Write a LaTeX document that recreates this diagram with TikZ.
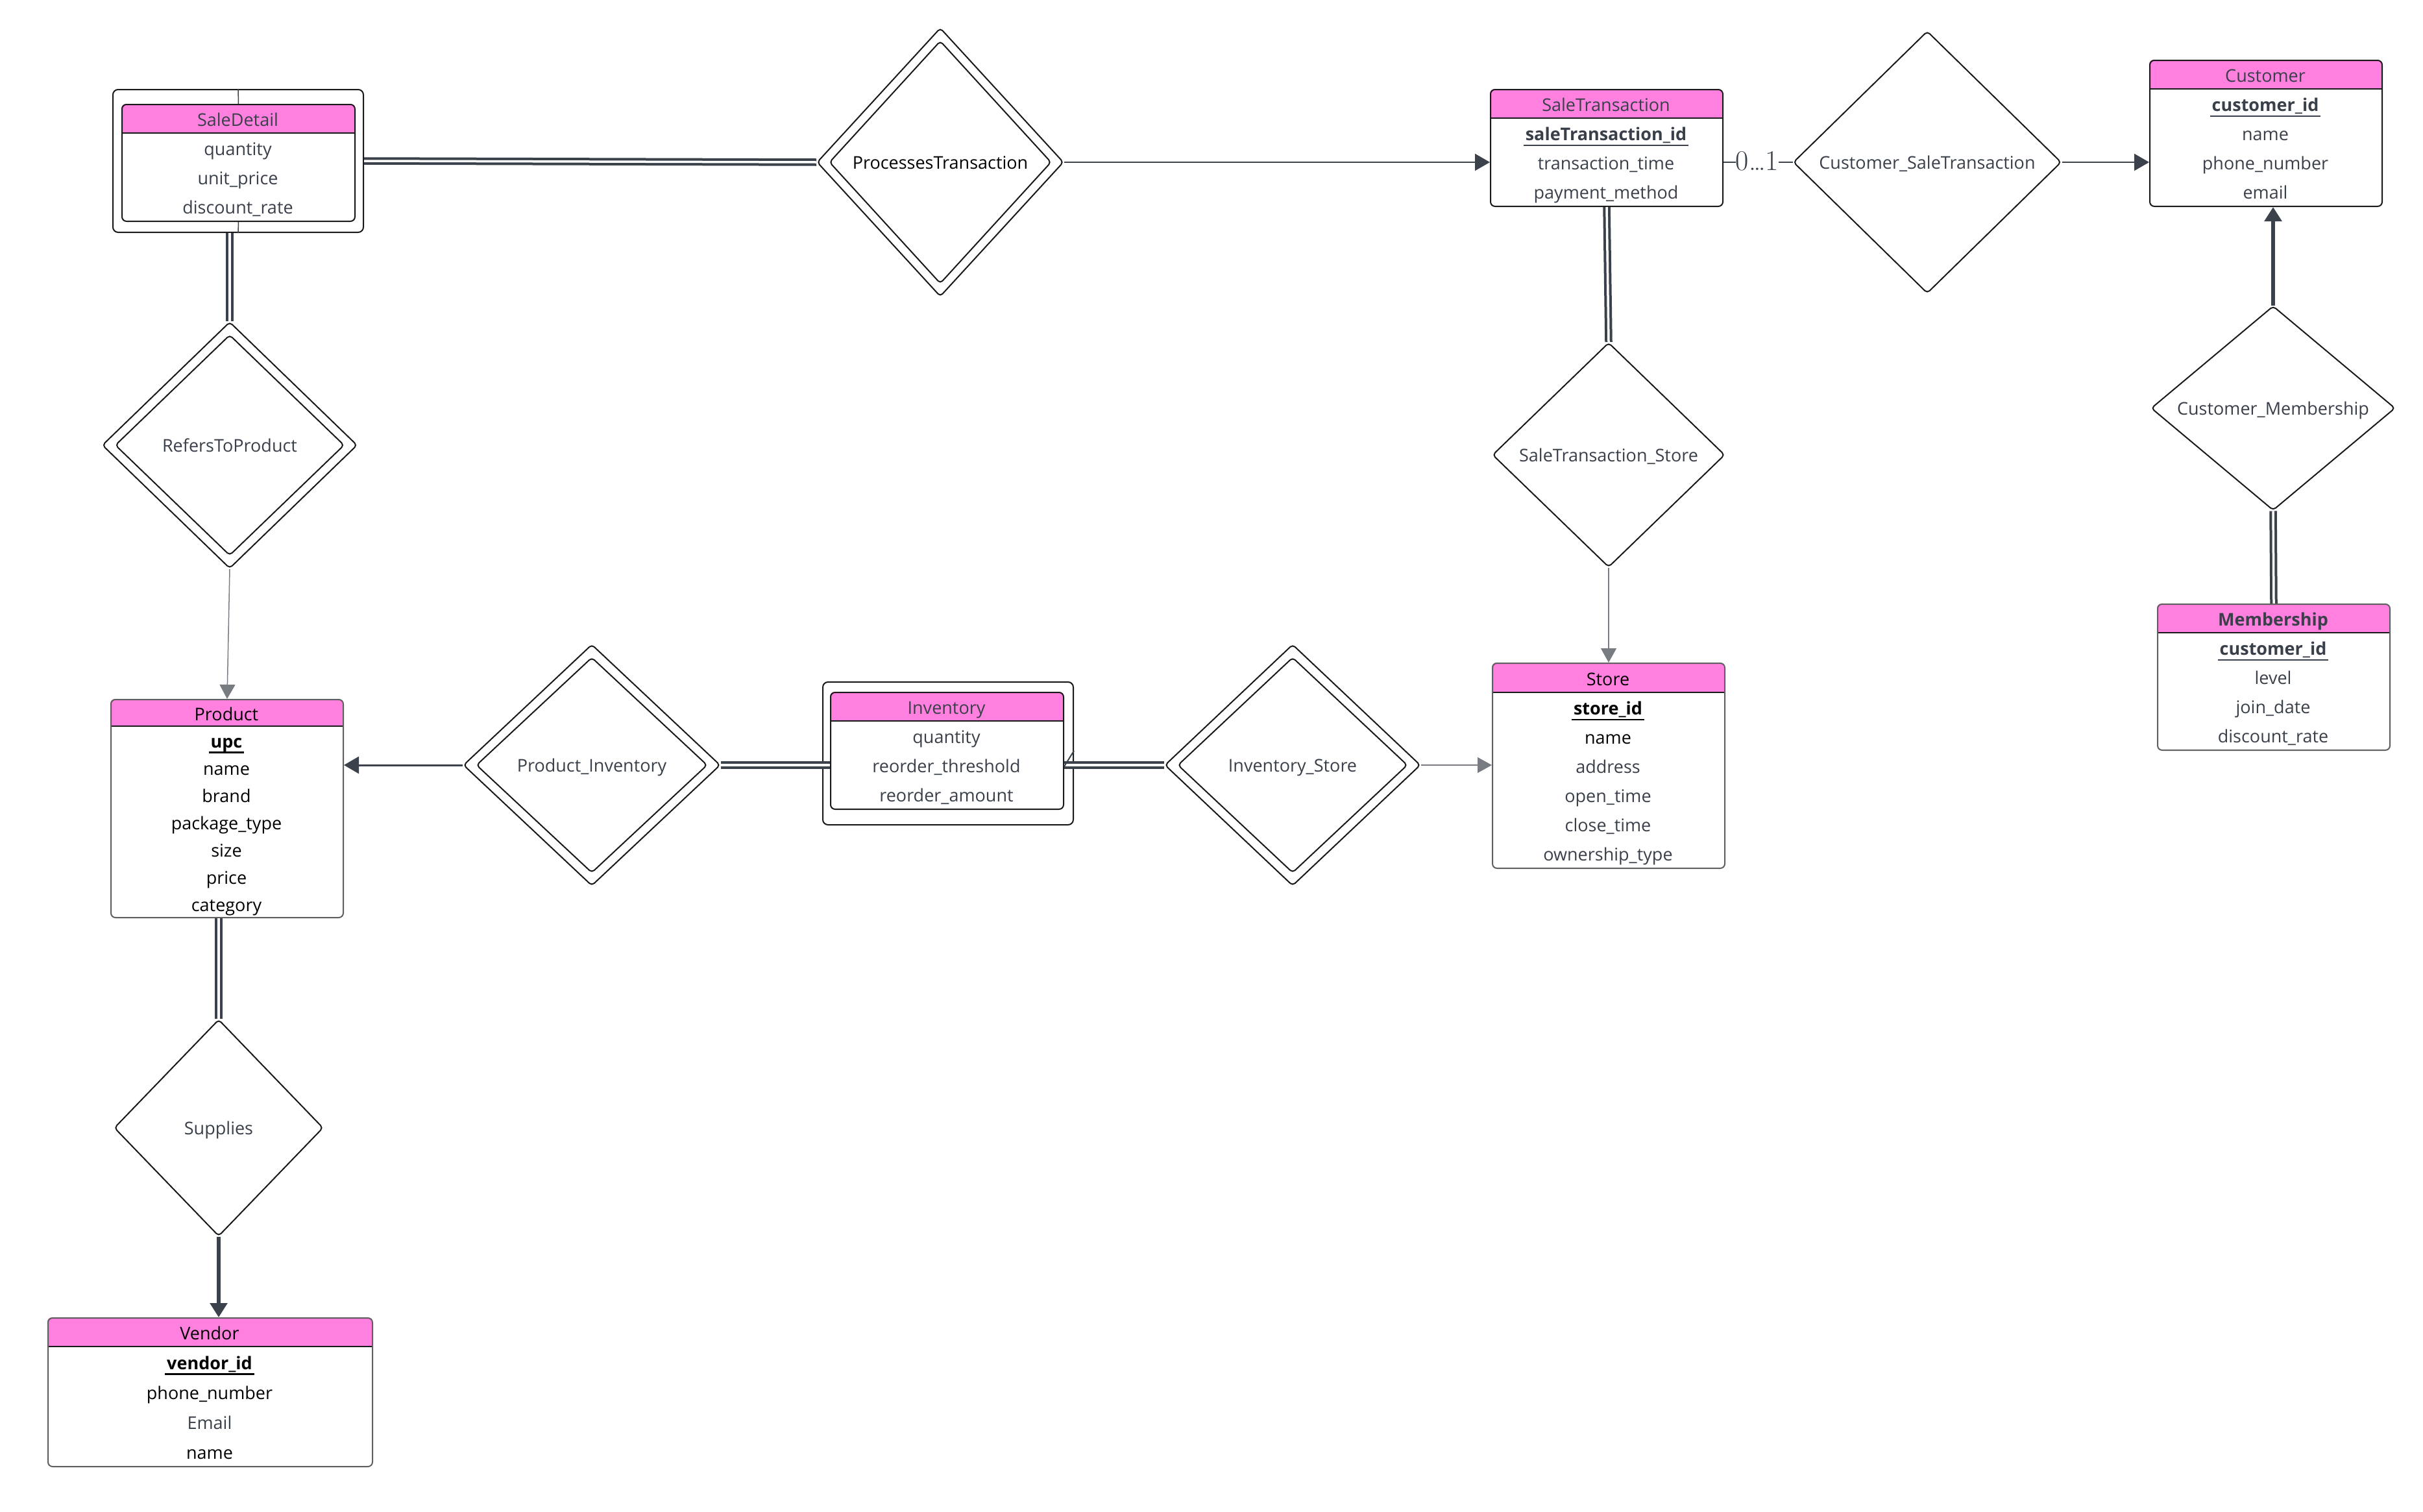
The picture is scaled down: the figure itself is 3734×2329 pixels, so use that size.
\documentclass[tikz,border=0pt]{standalone}
\usepackage{fontspec}
\setsansfont{Open Sans}
\usetikzlibrary{shapes.geometric,arrows.meta}

\definecolor{hdrpink}{RGB}{255,128,223}
\definecolor{ink}{RGB}{58,64,74}
\definecolor{wire}{RGB}{59,66,76}
\definecolor{edge}{RGB}{25,25,25}
\definecolor{soft}{RGB}{95,95,95}
\definecolor{faint}{RGB}{120,124,130}

% primary key: bold text with a rule under it
\newcommand{\pk}[1]{\setbox0=\hbox{\textbf{#1}}\rlap{\hspace{-3pt}\rule[-8.5pt]{\dimexpr\wd0+6pt\relax}{2.4pt}}\box0}

% entity table: #1 name, #2 left, #3 top, #4 width, #5 header height, #6 body height, #7 border colour
\newcommand{\entbox}[7]{%
  \begin{scope}
    \clip[rounded corners=7] (#2,#3) rectangle ({#2+#4},{#3+#5+#6});
    \fill[hdrpink] (#2,#3) rectangle ({#2+#4},{#3+#5});
  \end{scope}
  \draw[edge, line width=1.8] (#2,{#3+#5}) -- ({#2+#4},{#3+#5});
  \node[draw=#7, line width=2, rounded corners=7, anchor=north west, inner sep=0,
        minimum width=#4, minimum height={#5+#6}] (#1) at (#2,#3) {};
}

\tikzset{
  x=1pt, y=-1pt,
  lbl/.style={font=\sffamily\fontsize{27}{32}\selectfont, inner sep=0,
              text height=24pt, text depth=0pt, text=ink},
  lblk/.style={lbl, text=black},
  rel/.style={diamond, draw=edge, line width=2, rounded corners=5, inner sep=0},
  outerbox/.style={draw=edge, line width=2, rounded corners=8, anchor=north west, inner sep=0},
  weak/.style={draw=wire, line width=4, double=white, double distance=3.5},
  plain/.style={draw=wire, line width=2.5},
  arrowthin/.style={draw=wire, line width=2, -{Triangle[length=23,width=26]}},
  arrowlight/.style={draw=faint, line width=1.5, -{Triangle[length=22,width=24]}},
  arrowmid/.style={draw=wire, line width=3, -{Triangle[length=23,width=26]}},
  arrowbold/.style={draw=wire, line width=6, -{Triangle[length=22,width=26]}},
}

\begin{document}
\begin{tikzpicture}
\useasboundingbox[fill=white] (0,0) rectangle (3734,2329);

% ---------- SaleDetail (weak entity) ----------
\node[outerbox, minimum width=386, minimum height=220] (sdo) at (173,137) {};
\entbox{sdi}{187}{160}{359}{45}{135}{edge}
\node[lbl] (sd-h) at (366.5,182.5) {SaleDetail};
\node[lbl] (sd-1) at (366.5,227.5) {quantity};
\node[lbl] (sd-2) at (366.5,272.5) {unit\_price};
\node[lbl] (sd-3) at (366.5,317.5) {discount\_rate};
\draw[wire, line width=1.5] (sdo.north) -- (sdi.north);
\draw[wire, line width=1.5] (sdi.south) -- (sdo.south);

% ---------- SaleTransaction ----------
\entbox{st}{2296}{137}{358}{45}{135}{edge}
\node[lbl] (st-h) at (2475,159.5) {SaleTransaction};
\node[lbl] (st-1) at (2475,204.5) {\pk{saleTransaction\_id}};
\node[lbl] (st-2) at (2475,249.5) {transaction\_time};
\node[lbl] (st-3) at (2475,294.5) {payment\_method};

% ---------- Customer ----------
\entbox{cust}{3312}{92}{358}{45}{180}{edge}
\node[lbl] (cu-h) at (3491,114.5) {Customer};
\node[lbl] (cu-1) at (3491,159.5) {\pk{customer\_id}};
\node[lbl] (cu-2) at (3491,204.5) {name};
\node[lbl] (cu-3) at (3491,249.5) {phone\_number};
\node[lbl] (cu-4) at (3491,294.5) {email};

% ---------- Membership ----------
\entbox{mem}{3324}{930}{358}{45}{180}{soft}
\node[lbl] (me-h) at (3503,952.5) {\textbf{Membership}};
\node[lbl] (me-1) at (3503,997.5) {\pk{customer\_id}};
\node[lbl] (me-2) at (3503,1042.5) {level};
\node[lbl] (me-3) at (3503,1087.5) {join\_date};
\node[lbl] (me-4) at (3503,1132.5) {discount\_rate};

% ---------- Product ----------
\entbox{prod}{170}{1077}{358}{42}{294}{soft}
\node[lblk] (pr-h) at (349,1098) {Product};
\node[lblk] (pr-1) at (349,1140) {\pk{upc}};
\node[lblk] (pr-2) at (349,1182) {name};
\node[lblk] (pr-3) at (349,1224) {brand};
\node[lblk] (pr-4) at (349,1266) {package\_type};
\node[lblk] (pr-5) at (349,1308) {size};
\node[lblk] (pr-6) at (349,1350) {price};
\node[lblk] (pr-7) at (349,1392) {category};

% ---------- Inventory (weak entity) ----------
\node[outerbox, minimum width=386, minimum height=220] (invo) at (1267,1050) {};
\entbox{invi}{1279}{1066}{359}{45}{135}{edge}
\node[lbl] (in-h) at (1458.5,1088.5) {Inventory};
\node[lbl] (in-1) at (1458.5,1133.5) {quantity};
\node[lbl] (in-2) at (1458.5,1178.5) {reorder\_threshold};
\node[lbl] (in-3) at (1458.5,1223.5) {reorder\_amount};

% ---------- Store ----------
\entbox{store}{2299}{1021}{358}{46}{270}{soft}
\node[lblk] (so-h) at (2478,1044) {Store};
\node[lblk] (so-1) at (2478,1089.5) {\pk{store\_id}};
\node[lblk] (so-2) at (2478,1134.5) {name};
\node[lbl] (so-3) at (2478,1179.5) {address};
\node[lbl] (so-4) at (2478,1224.5) {open\_time};
\node[lbl] (so-5) at (2478,1269.5) {close\_time};
\node[lbl] (so-6) at (2478,1314.5) {ownership\_type};

% ---------- Vendor ----------
\entbox{ven}{73}{2030}{500}{45}{184}{soft}
\node[lblk] (ve-h) at (323,2052.5) {Vendor};
\node[lblk] (ve-1) at (323,2098) {\pk{vendor\_id}};
\node[lblk] (ve-2) at (323,2144) {phone\_number};
\node[lbl] (ve-3) at (323,2190) {Email};
\node[lblk] (ve-4) at (323,2236) {name};

% ---------- relationships ----------
\node[rel, minimum width=380, minimum height=414] (pt) at (1449,250) {};
\node[rel, minimum width=342, minimum height=374] (pt-in) at (1449,250) {};
\node[lblk] (pt-l) at (1449,248) {ProcessesTransaction};

\node[rel, minimum width=413, minimum height=404] (ct) at (2970,250) {};
\node[lbl] (ct-l) at (2970,248) {Customer\_SaleTransaction};

\node[rel, minimum width=358, minimum height=346] (sts) at (2479,701) {};
\node[lbl] (sts-l) at (2479,699) {SaleTransaction\_Store};

\node[rel, minimum width=376, minimum height=315] (cm) at (3503,629) {};
\node[lbl] (cm-l) at (3503,627) {Customer\_Membership};

\node[rel, minimum width=393, minimum height=380] (rp) at (354,686) {};
\node[rel, minimum width=353, minimum height=340] (rp-in) at (354,686) {};
\node[lbl] (rp-l) at (354,684) {RefersToProduct};

\node[rel, minimum width=396, minimum height=372] (pi) at (912,1179) {};
\node[rel, minimum width=356, minimum height=332] (pi-in) at (912,1179) {};
\node[lbl] (pi-l) at (912,1177) {Product\_Inventory};

\node[rel, minimum width=394, minimum height=372] (is) at (1992,1179) {};
\node[rel, minimum width=354, minimum height=332] (is-in) at (1992,1179) {};
\node[lbl] (is-l) at (1992,1177) {Inventory\_Store};

\node[rel, minimum width=322, minimum height=334] (sup) at (337,1738) {};
\node[lbl] (sup-l) at (337,1736) {Supplies};

% cardinality label
\node[inner sep=0, font=\rmfamily\fontsize{44}{48}\selectfont, text=ink] (card) at (2708,248) {0\ldots1};

% ---------- connectors ----------
\draw[weak] (sdo.east) -- (pt.west);
\draw[arrowthin] (pt.east) -- (pt.east -| st.west);
\draw[plain] (st.east |- ct.west) -- (card.west |- ct.west);
\draw[plain] (card.east |- ct.west) -- (ct.west);
\draw[arrowthin] (ct.east) -- (ct.east -| cust.west);
\draw[weak] (st.south) -- (sts.north);
\draw[arrowlight] (sts.south) -- (store.north);
\draw[arrowbold] (cm.north) -- (cm.north |- cust.south);
\draw[weak] (cm.south) -- (mem.north);
\draw[weak] (rp.north |- sdo.south) -- (rp.north);
\draw[arrowlight] (rp.south) -- (prod.north);
\draw[arrowmid] (pi.west) -- (pi.west -| prod.east);
\draw[weak] (pi.east) -- (pi.east -| invi.west);
\draw[weak] (is.west) -- (is.west -| invi.east);
\draw[wire, line width=2] (invo.east |- is.west) ++(0,-22) -- ++(-15,24);
\draw[arrowlight] (is.east) -- (is.east -| store.west);
\draw[weak] (sup.north |- prod.south) -- (sup.north);
\draw[arrowbold] (sup.south) -- (sup.south |- ven.north);
\end{tikzpicture}
\end{document}
